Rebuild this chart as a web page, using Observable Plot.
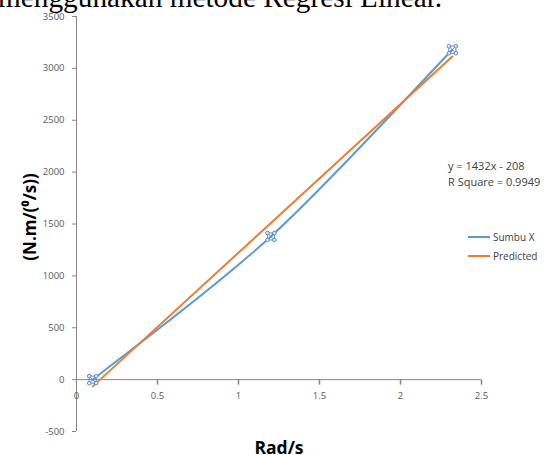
<!DOCTYPE html>
<html>
<head>
<meta charset="utf-8">
<script src="https://cdn.jsdelivr.net/npm/d3@7"></script>
<script src="https://cdn.jsdelivr.net/npm/@observablehq/plot@0.6"></script>
<style>
  html, body { margin: 0; padding: 0; background: #fff; }
  #wrap { position: relative; width: 548px; height: 455px; overflow: hidden; background: #fff; }
  #title { position: absolute; left: -2px; top: -17px; font: 29.3px/29.3px "Liberation Serif", serif; color: #000; white-space: nowrap; }
  #chart { position: absolute; left: 0; top: 0; }
  .eq { position: absolute; left: 448px; font: 11px/16px "Open Sans", sans-serif; color: #404040; white-space: nowrap; }
  .lg-line { position: absolute; left: 468px; width: 22px; height: 2px; }
  .lg-text { position: absolute; left: 493px; font: 10px/12px "Open Sans", sans-serif; color: #404040; white-space: nowrap; }
</style>
</head>
<body>
<div id="wrap">
  <div id="chart"></div>
  <div id="title"></div>
  <div id="eq1" class="eq" style="top:158px"></div>
  <div id="eq2" class="eq" style="top:174px"></div>
  <div class="lg-line" style="top:236px;background:#5b9bd5"></div>
  <div id="lg1" class="lg-text" style="top:231px"></div>
  <div class="lg-line" style="top:255px;background:#ed7d31"></div>
  <div id="lg2" class="lg-text" style="top:250px"></div>
</div>
<script>
// ---- data ----
const titleText = "menggunakan metode Regresi Linear.";
const xValues = [0.1, 1.2, 2.32];                 // Rad/s
const sumbuX = [0, 1380, 3180];                    // measured series
const predicted = [-65, 1510, 3114];               // y = 1432x - 208
const seriesNames = ["Sumbu X", "Predicted"];
const xTicks = [0, 0.5, 1, 1.5, 2, 2.5];
const yTicks = [-500, 0, 500, 1000, 1500, 2000, 2500, 3000, 3500];
const xTitle = "Rad/s";
const yTitle = "(N.m/(\u2070/s))";
const equationLines = ["y = 1432x - 208", "R Square = 0.9949"];

// ---- tables built from the arrays ----
const measured = xValues.map((x, i) => ({x, y: sumbuX[i]}));
const pred = xValues.map((x, i) => ({x, y: predicted[i]}));

// Excel-like smoothed line (uniform Catmull-Rom, endpoints duplicated)
function excelSmooth(context) {
  let pts = [];
  return {
    areaStart() {}, areaEnd() {},
    lineStart() { pts = []; },
    point(x, y) { pts.push([+x, +y]); },
    lineEnd() {
      const n = pts.length;
      if (!n) return;
      context.moveTo(pts[0][0], pts[0][1]);
      for (let i = 0; i < n - 1; i++) {
        const p0 = pts[Math.max(i - 1, 0)], p1 = pts[i], p2 = pts[i + 1], p3 = pts[Math.min(i + 2, n - 1)];
        context.bezierCurveTo(
          p1[0] + (p2[0] - p0[0]) / 6, p1[1] + (p2[1] - p0[1]) / 6,
          p2[0] - (p3[0] - p1[0]) / 6, p2[1] - (p3[1] - p1[1]) / 6,
          p2[0], p2[1]);
      }
    }
  };
}

const tickDown = { draw(ctx) { ctx.moveTo(0, 0); ctx.lineTo(0, 5); } };
const axisColor = "#868686";
const blue = "#5b9bd5", orange = "#ed7d31", markerStroke = "#5a8ac6";

const chart = Plot.plot({
  width: 548,
  height: 455,
  marginTop: 16,
  marginBottom: 24,
  marginLeft: 76,
  marginRight: 67,
  style: { fontFamily: "'Open Sans', sans-serif", fontSize: "9.5px", color: "#595959", background: "white" },
  x: { domain: [0, 2.5], axis: null },
  y: { domain: [-500, 3500], axis: null },
  marks: [
    Plot.ruleX([0], { stroke: axisColor }),
    Plot.ruleY([0], { stroke: axisColor }),
    Plot.axisY(yTicks, { anchor: "left", tickSize: 4, tickPadding: 8, stroke: axisColor, fill: "#595959", label: null, tickFormat: d => String(d) }),
    Plot.dot(xTicks.slice(1), { x: d => d, y: 0, symbol: tickDown, stroke: axisColor, fill: "none", r: 1 }),
    Plot.text(xTicks, { x: d => d, y: 0, text: d => String(d), dy: 16, fill: "#595959", fontSize: 9.5 }),
    Plot.line(measured, { x: "x", y: "y", stroke: blue, strokeWidth: 2, curve: excelSmooth }),
    Plot.line(pred, { x: "x", y: "y", stroke: orange, strokeWidth: 2 }),
    // markers
    Plot.dot(measured, { x: "x", y: "y", symbol: "square", r: 4, stroke: markerStroke, fill: "none", strokeWidth: 1 }),
    Plot.dot(measured, { x: "x", y: "y", symbol: "times", r: 3.5, stroke: markerStroke, strokeWidth: 1 }),
    ...[[-3.5, -3.5], [3.5, -3.5], [-3.5, 3.5], [3.5, 3.5]].map(([dx, dy]) =>
      Plot.dot(measured, { x: "x", y: "y", r: 1.8, dx, dy, fill: "#e3ecf7", stroke: markerStroke, strokeWidth: 1 })),
    // axis titles
    Plot.text([xTitle], { frameAnchor: "bottom", text: d => d, textAnchor: "middle", lineAnchor: "middle", dy: 17, fontSize: 17.5, fontWeight: "bold", fill: "#000" }),
    Plot.text([yTitle], { frameAnchor: "left", text: d => d, textAnchor: "middle", lineAnchor: "middle", dx: -46, dy: -7, rotate: -90, fontSize: 17, fontWeight: "bold", fill: "#000" })
  ]
});
document.getElementById("chart").appendChild(chart);
document.getElementById("title").textContent = titleText;
document.getElementById("eq1").textContent = equationLines[0];
document.getElementById("eq2").textContent = equationLines[1];
document.getElementById("lg1").textContent = seriesNames[0];
document.getElementById("lg2").textContent = seriesNames[1];
</script>
</body>
</html>
